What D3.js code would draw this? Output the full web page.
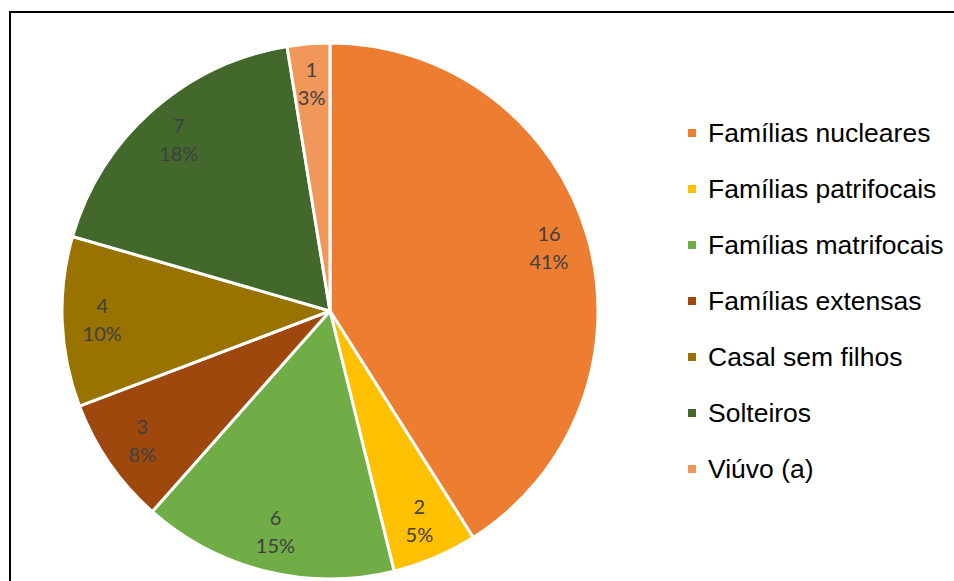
<!DOCTYPE html>
<html>
<head>
<meta charset="utf-8">
<script src="https://cdn.jsdelivr.net/npm/d3@7"></script>
<style>
  body { margin: 0; background: #fff; }
  svg { display: block; }
</style>
</head>
<body>
<svg id="chart" width="954" height="581"></svg>
<script>
// Data
const categories = ["Famílias nucleares", "Famílias patrifocais", "Famílias matrifocais",
                    "Famílias extensas", "Casal sem filhos", "Solteiros", "Viúvo (a)"];
const values = [16, 2, 6, 3, 4, 7, 1];
const colors = ["#ED7D31", "#FFC000", "#70AD47", "#9E480E", "#997300", "#43682B", "#F1975A"];

const svg = d3.select("#chart");
const cx = 330, cy = 311, radius = 268;

// frame (top and left edges only visible)
svg.append("path")
    .attr("d", "M10,581 L10,12 L954,12")
    .attr("fill", "none")
    .attr("stroke", "#000")
    .attr("stroke-width", 2);

const total = d3.sum(values);
const data = categories.map((c, i) => ({ name: c, value: values[i], color: colors[i] }));

const pie = d3.pie().value(d => d.value).sort(null);
const arc = d3.arc().innerRadius(0).outerRadius(radius);
const labelArc = d3.arc().innerRadius(228).outerRadius(228);

const g = svg.append("g").attr("transform", `translate(${cx},${cy})`);

const slices = g.selectAll("g.slice")
    .data(pie(data))
    .enter()
    .append("g")
    .attr("class", "slice");

slices.append("path")
    .attr("d", arc)
    .attr("fill", d => d.data.color)
    .attr("stroke", "#fff")
    .attr("stroke-width", 3)
    .attr("stroke-linejoin", "round");

// value + percentage labels
const labels = slices.append("text")
    .attr("transform", d => `translate(${labelArc.centroid(d)})`)
    .attr("text-anchor", "middle")
    .attr("font-family", "Lato, 'Open Sans', sans-serif")
    .attr("font-size", 20)
    .attr("fill", "#404040");

labels.append("tspan")
    .attr("x", 0)
    .attr("y", -7)
    .text(d => d.data.value);

labels.append("tspan")
    .attr("x", 0)
    .attr("y", 21)
    .text(d => Math.round(d.data.value / total * 100) + "%");

// legend
const legend = svg.append("g").attr("transform", "translate(688,133)");
const item = legend.selectAll("g")
    .data(data)
    .enter()
    .append("g")
    .attr("transform", (d, i) => `translate(0,${i * 56})`);

item.append("rect")
    .attr("x", 0)
    .attr("y", -4)
    .attr("width", 8)
    .attr("height", 8)
    .attr("fill", d => d.color);

item.append("text")
    .attr("x", 20)
    .attr("y", 9)
    .attr("font-family", "Arial, 'Liberation Sans', sans-serif")
    .attr("font-size", 26.5)
    .attr("fill", "#000")
    .text(d => d.name);
</script>
</body>
</html>
